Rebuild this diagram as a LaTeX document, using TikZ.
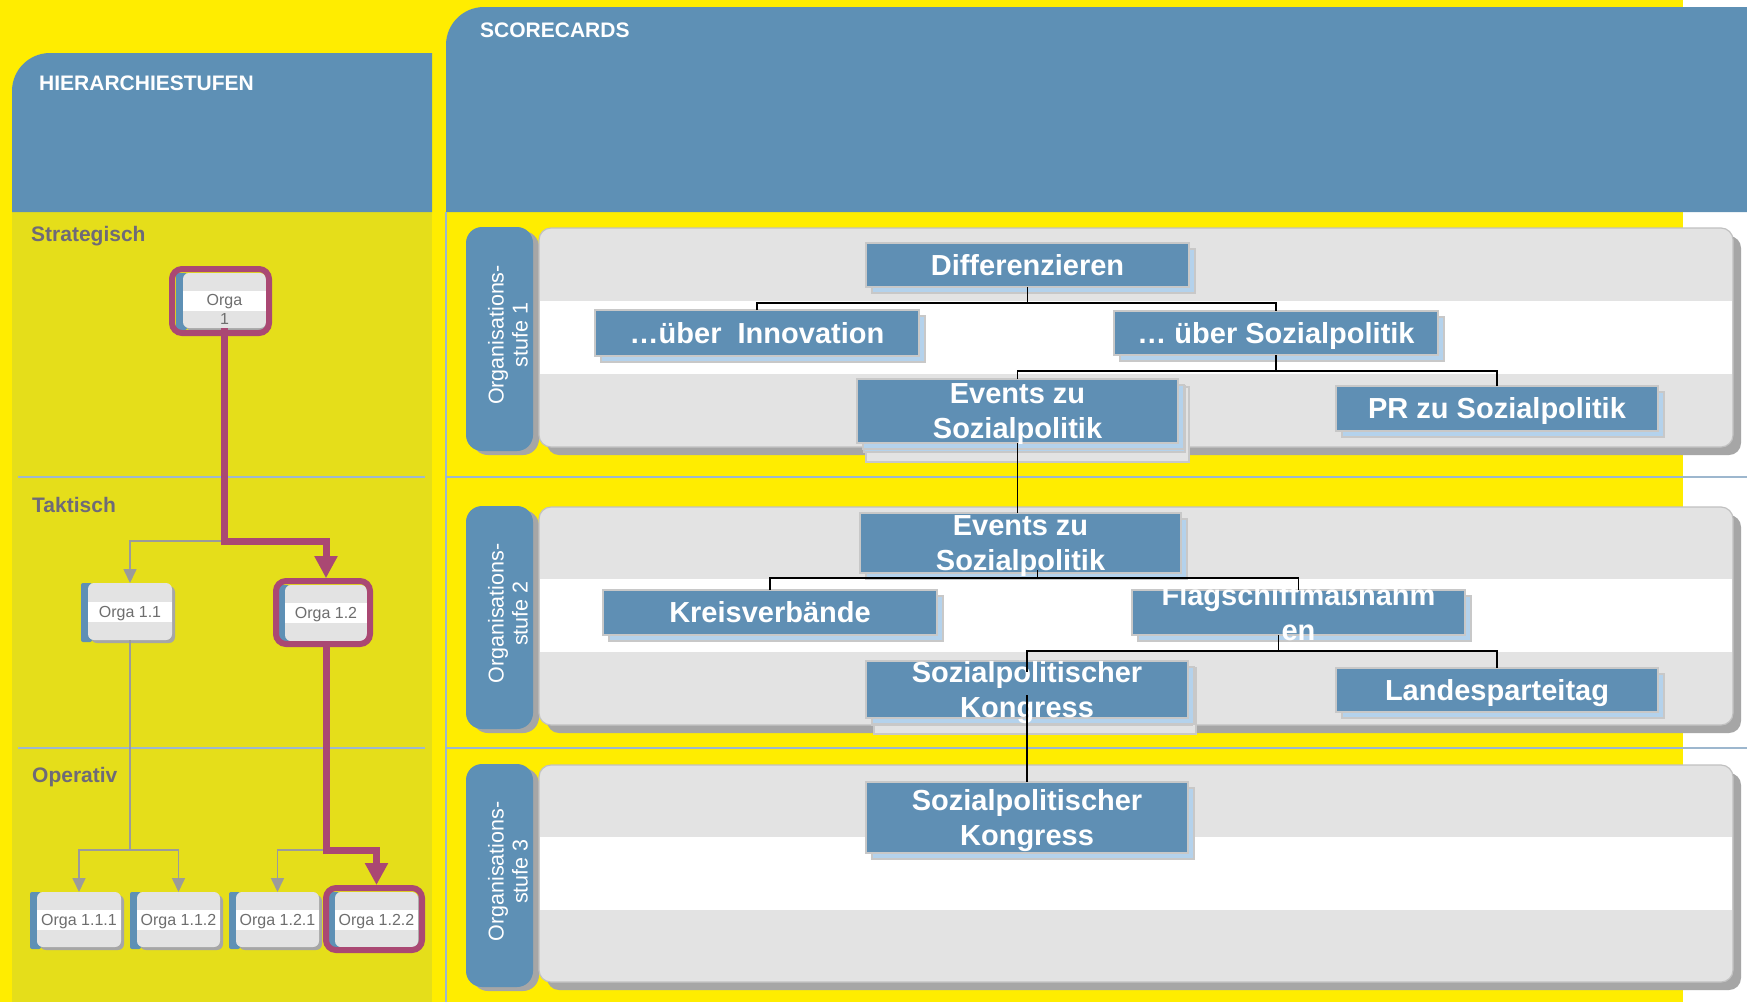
\documentclass[tikz,border=0pt]{standalone}
\usepackage{fontspec}
\setmainfont{Liberation Sans}
\usetikzlibrary{arrows.meta}
\definecolor{yel}{RGB}{255,237,0}
\definecolor{oliv}{RGB}{229,222,26}
\definecolor{hblue}{RGB}{94,144,181}
\definecolor{bblue}{RGB}{95,143,180}
\definecolor{lblue}{RGB}{180,210,236}
\definecolor{bgray}{RGB}{200,200,200}
\definecolor{pgray}{RGB}{227,227,227}
\definecolor{sgray}{RGB}{166,166,166}
\definecolor{mag}{RGB}{170,72,115}
\definecolor{sepc}{RGB}{157,183,206}
\definecolor{ogray}{RGB}{110,110,110}
\definecolor{lgray}{RGB}{110,106,120}
\definecolor{arrg}{RGB}{155,155,155}

% blue scorecard box: [text style]{name}{x1}{y1}{x2}{y2}{text}
\newcommand\BBox[7][btextA]{%
  \draw[bshadow] (#3+6,#4+6) rectangle (#5+6,#6+6);
  \node[bbox, minimum width={(#5)-(#3)}, minimum height={(#6)-(#4)}] (#2) at ({((#3)+(#5))/2},{((#4)+(#6))/2}) {};
  \node[#1] (#2-t) at (#2.center) {#7};
}
% orga box: {name}{x1}{y1}{x2}{y2}{text}{text options}
\newcommand\OBox[7]{%
  \fill[sgray, rounded corners=6pt] (#2+3,#3+3) rectangle (#4+3,#5+3);
  \fill[hblue, rounded corners=2pt] (#2-7,#3) rectangle (#2+4,#5+2);
  \node[obox, minimum width={(#4)-(#2)}, minimum height={(#5)-(#3)}] (#1) at ({((#2)+(#4))/2},{((#3)+(#5))/2}) {};
  \fill[white] (#2,{((#3)+(#5))/2-10}) rectangle (#4,{((#3)+(#5))/2+10});
  \node[otext, #7] (#1-t) at (#1.center) {#6};
}
% lane: {name}{pill y1}{pill y2}{panel y1}{panel y2}{band y1}{band y2}{number}
\newcommand\Lane[8]{%
  \fill[sgray, rounded corners=16pt] (472,#2+4) rectangle (539,#3+4);
  \node[pill, minimum height={(#3)-(#2)}] (#1) at (499.5,{((#2)+(#3))/2}) {};
  \fill[sgray, rounded corners=12pt] (547,#4+8) rectangle (1741,#5+8);
  \filldraw[panel] (539,#4) rectangle (1733,#5);
  \fill[white] (540,#6) rectangle (1732,#7);
  \node[pilltext] (#1-t) at (508,{((#2)+(#3))/2-4}) {Organisations-\\stufe #8};
}

\begin{document}
\begin{tikzpicture}[x=1pt,y=-1pt,
  bbox/.style={draw=bgray, line width=1.5pt, fill=bblue, inner sep=0pt, outer sep=0pt},
  bshadow/.style={draw=bgray, line width=1.2pt, fill=lblue},
  stackback/.style={draw=bgray, line width=1.2pt, fill=pgray},
  btextA/.style={text=white, font=\fontsize{29}{35}\selectfont\bfseries, inner sep=0pt, text height=20pt, text depth=0pt},
  btextB/.style={text=white, font=\fontsize{29}{35}\selectfont\bfseries, inner sep=0pt, align=center, yshift=-3pt},
  obox/.style={fill=pgray, rounded corners=6pt, inner sep=0pt, outer sep=0pt},
  otext/.style={text=ogray, font=\fontsize{16}{19}\selectfont, inner sep=0pt, align=center},
  pill/.style={fill=hblue, rounded corners=16pt, minimum width=67pt, inner sep=0pt, outer sep=0pt},
  pilltext/.style={text=white, font=\fontsize{21.5}{24}\selectfont, inner sep=0pt, align=center, rotate=90},
  panel/.style={fill=pgray, draw=sgray!70, line width=1.2pt, rounded corners=12pt},
  sep/.style={draw=sepc, line width=1.5pt},
  title/.style={text=white, font=\fontsize{21}{25}\selectfont\bfseries, inner sep=0pt},
  lvl/.style={text=lgray, font=\fontsize{21}{25}\selectfont\bfseries, inner sep=0pt},
  conn/.style={draw=black, line width=1.8pt},
  garrow/.style={draw=arrg, line width=1.6pt, -{Triangle[width=13pt,length=14pt]}},
  marrow/.style={draw=mag, line width=7pt, -{Triangle[width=22pt,length=22pt]}},
  magframe/.style={draw=mag, line width=6pt, rounded corners=10pt}]

\useasboundingbox (0,0) rectangle (1747,1002);
% backgrounds
\fill[yel] (0,0) rectangle (1747,1002);
\fill[white] (1683,0) rectangle (1747,1002);
\fill[oliv] (12,212) rectangle (432,1002);
\fill[hblue] (12,212) [rounded corners=38pt] -- (12,53) [sharp corners] -- (432,53) -- (432,212) -- cycle;
\fill[hblue] (446,212) [rounded corners=38pt] -- (446,7) [sharp corners] -- (1747,7) -- (1747,212) -- cycle;

\node[title, anchor=base west] (thier) at (39,90) {HIERARCHIESTUFEN};
\node[title, anchor=base west] (tscore) at (480,37) {SCORECARDS};

% separators
\draw[sep] (18,477) -- (425,477);
\draw[sep] (18,748) -- (425,748);
\draw[sep] (446,477) -- (1747,477);
\draw[sep] (446,748) -- (1747,748);
\draw[sep] (446,212) -- (446,1002);

\node[lvl, anchor=base west] (lstr) at (31,241) {Strategisch};
\node[lvl, anchor=base west] (ltak) at (32,512) {Taktisch};
\node[lvl, anchor=base west] (lope) at (32,782) {Operativ};

% ---------- hierarchy ----------
\OBox{o1}{183}{273}{266}{328}{Orga\\1}{yshift=-8.5pt}
\OBox{o11}{88}{583}{172}{640}{Orga 1.1}{text height=11.5pt, text depth=0pt}
\OBox{o12}{285}{585}{367}{641}{Orga 1.2}{text height=11.5pt, text depth=0pt}
\OBox{o111}{37}{892}{121}{947}{Orga 1.1.1}{text height=11.5pt, text depth=0pt}
\OBox{o112}{137}{892}{220}{947}{Orga 1.1.2}{text height=11.5pt, text depth=0pt}
\OBox{o121}{236}{892}{319}{947}{Orga 1.2.1}{text height=11.5pt, text depth=0pt}
\OBox{o122}{335}{892}{418}{947}{Orga 1.2.2}{text height=11.5pt, text depth=0pt}

\coordinate (gL) at (0,541);
\coordinate (gB) at (0,850);
\draw[garrow] (o1.south) |- (gL -| o11.north) -- (o11.north);
\draw[garrow] (o1.south) |- (gL -| o12.north) -- ([yshift=7pt]o12.north);
\draw[garrow] (o11.south) |- (gB -| o111.north) -- (o111.north);
\draw[garrow] (o11.south) |- (gB -| o112.north) -- (o112.north);
\draw[garrow] (o12.south) |- (gB -| o121.north) -- (o121.north);
\draw[marrow] (o1.south) |- (gL -| o12.north) -- ([yshift=7pt]o12.north);
\draw[marrow] (o12.south) |- (gB -| o122.north) -- ([yshift=7pt]o122.north);

\draw[magframe] (172,269) rectangle (269,333);
\draw[magframe] (276,581) rectangle (370,644);
\draw[magframe] (326,888) rectangle (422,950);

% ---------- scorecards ----------
\Lane{lane1}{227}{451}{228}{447}{301}{374}{1}
\Lane{lane2}{506}{729}{507}{725}{579}{652}{2}
\Lane{lane3}{764}{987}{765}{982}{837}{910}{3}

\BBox{diff}{866}{243}{1189}{287}{Differenzieren}
\BBox{innov}{595}{310}{919}{356}{…über~~Innovation}
\BBox{sozp}{1114}{311}{1438}{355}{… über Sozialpolitik}
\draw[stackback] (866,387) rectangle (1189,462);
\draw[bshadow] (864,386) rectangle (1185,452);
\BBox[btextB]{evA}{857}{379}{1178}{443}{Events zu\\Sozialpolitik\vphantom{p}}
\BBox{pr}{1336}{386}{1658}{431}{PR zu Sozialpolitik}

\BBox[btextB]{evB}{860}{513}{1181}{573}{Events zu\\Sozialpolitik\vphantom{p}}
\BBox{kreis}{603}{590}{937}{635}{Kreisverbände}
\BBox[btextB]{flag}{1132}{590}{1465}{635}{Flagschiffmaßnahm\\en\vphantom{p}}
\draw[stackback] (874,668) rectangle (1196,734);
\draw[bshadow] (872,667) rectangle (1192,725);
\BBox[btextB]{skB}{866}{661}{1188}{718}{Sozialpolitischer\\Kongress\vphantom{p}}
\BBox{lpt}{1336}{668}{1658}{712}{Landesparteitag}

\BBox[btextB]{skC}{866}{782}{1188}{853}{Sozialpolitischer\\Kongress\vphantom{p}}

% connectors
\coordinate (hA) at (0,303);
\coordinate (hB) at (0,371);
\coordinate (hC) at (0,578);
\coordinate (hD) at (0,651);
\draw[conn] (diff.south) -- (diff.south |- hA);
\draw[conn] (innov.north) |- (hA -| sozp.north) -- (sozp.north);
\draw[conn] (sozp.south) -- (sozp.south |- hB);
\draw[conn] (evA.north) |- (hB -| pr.north) -- (pr.north);
\draw[conn] (evA.south) -- (evA.south |- evB.north);
\draw[conn] ([xshift=17pt,yshift=3pt]evB.south) -- ([xshift=17pt]evB.south |- hC);
\draw[conn] (kreis.north) |- (hC -| flag.north) -- (flag.north);
\draw[conn] ([xshift=-20pt]flag.south) -- ([xshift=-20pt]flag.south |- hD);
\draw[conn] ([yshift=-11pt]skB.north) |- (hD -| lpt.north) -- (lpt.north);
\draw[conn] ([yshift=-34pt]skB.north) -- (skC.north);
\end{tikzpicture}
\end{document}
